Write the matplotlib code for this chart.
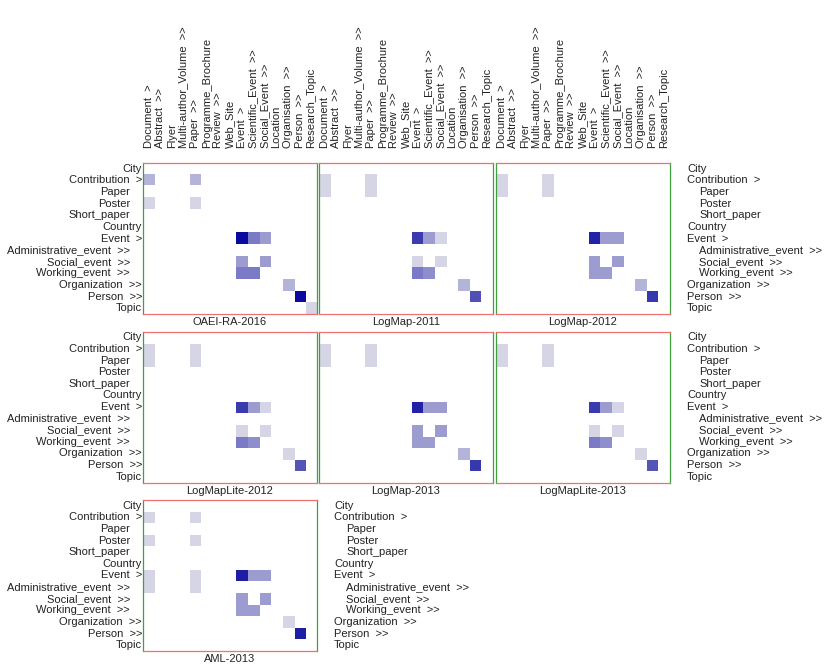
import numpy as np
import matplotlib
matplotlib.use('Agg')
import matplotlib.pyplot as plt
from matplotlib.colors import LinearSegmentedColormap

# row / column categories
row_labels = ['City', 'Contribution  >', 'Paper', 'Poster', 'Short_paper', 'Country',
              'Event  >', 'Administrative_event  >>', 'Social_event  >>',
              'Working_event  >>', 'Organization  >>', 'Person  >>', 'Topic']
row_level = [0, 0, 1, 1, 1, 0, 0, 1, 1, 1, 0, 0, 0]
col_labels = ['Document  >', 'Abstract  >>', 'Flyer', 'Multi-author_Volume  >>', 'Paper  >>',
              'Programme_Brochure', 'Review  >>', 'Web_Site', 'Event  >',
              'Scientific_Event  >>', 'Social_Event  >>', 'Location', 'Organisation  >>',
              'Person  >>', 'Research_Topic']

panel_names = ['OAEI-RA-2016', 'LogMap-2011', 'LogMap-2012', 'LogMapLite-2012',
               'LogMap-2013', 'LogMapLite-2013', 'AML-2013']

# (row, col, value) of the non-empty cells in every panel
oaei_ra_2016 = [(1, 0, .18), (1, 4, .18), (3, 0, .02), (3, 4, .02),
                (6, 8, 1.0), (6, 9, .46), (6, 10, .3), (8, 8, .3), (8, 10, .3),
                (9, 8, .46), (9, 9, .46), (10, 12, .18), (11, 13, 1.0), (12, 14, .02)]
logmap_2011 = [(1, 0, .02), (2, 0, .02), (1, 4, .02), (2, 4, .02),
               (6, 8, .76), (6, 9, .3), (6, 10, .02), (8, 8, .02), (8, 10, .02),
               (9, 8, .46), (9, 9, .36), (10, 12, .18), (11, 13, .66)]
logmap_2012 = [(1, 0, .02), (2, 0, .02), (1, 4, .02), (2, 4, .02),
               (6, 8, .88), (6, 9, .3), (6, 10, .3), (8, 8, .3), (8, 10, .3),
               (9, 8, .3), (9, 9, .3), (10, 12, .18), (11, 13, .78)]
logmaplite_2012 = [(1, 0, .02), (2, 0, .02), (1, 4, .02), (2, 4, .02),
                   (6, 8, .76), (6, 9, .3), (6, 10, .02), (8, 8, .02), (8, 10, .02),
                   (9, 8, .46), (9, 9, .36), (10, 12, .02), (11, 13, .64)]
logmap_2013 = [(1, 0, .02), (2, 0, .02), (1, 4, .02), (2, 4, .02),
               (6, 8, .88), (6, 9, .3), (6, 10, .3), (8, 8, .3), (8, 10, .3),
               (9, 8, .3), (9, 9, .3), (10, 12, .18), (11, 13, .78)]
logmaplite_2013 = [(1, 0, .02), (2, 0, .02), (1, 4, .02), (2, 4, .02),
                   (6, 8, .76), (6, 9, .3), (6, 10, .02), (8, 8, .02), (8, 10, .02),
                   (9, 8, .46), (9, 9, .36), (10, 12, .02), (11, 13, .64)]
aml_2013 = [(1, 0, .02), (1, 4, .02), (3, 0, .02), (3, 4, .02),
            (6, 0, .02), (7, 0, .02), (6, 4, .02), (7, 4, .02),
            (6, 8, .9), (6, 9, .3), (6, 10, .3), (8, 8, .3), (8, 10, .3),
            (9, 8, .3), (9, 9, .3), (10, 12, .02), (11, 13, .9)]
panel_cells = [oaei_ra_2016, logmap_2011, logmap_2012, logmaplite_2012,
               logmap_2013, logmaplite_2013, aml_2013]

plt.rcParams['font.family'] = ['Liberation Sans', 'DejaVu Sans']
plt.rcParams['font.size'] = 8
txt_color = '#222222'

cmap = LinearSegmentedColormap.from_list('blues', ['#dadae8', '#0a0a9e'])
cmap.set_bad('white')

W, H = 829, 664
fig = plt.figure(figsize=(W / 100, H / 100), dpi=100)

# panel grid in pixels
lefts = [143, 319, 496]
tops = [163, 331.5, 500]
pw, ph = 174, 151

for i, (name, cells) in enumerate(zip(panel_names, panel_cells)):
    r, c = divmod(i, 3)
    ax = fig.add_axes([lefts[c] / W, 1 - (tops[r] + ph) / H, pw / W, ph / H])
    mat = np.full((len(row_labels), len(col_labels)), np.nan)
    for row, col, v in cells:
        mat[row, col] = v
    ax.imshow(mat, cmap=cmap, vmin=0, vmax=1, aspect='auto', interpolation='nearest')
    ax.set_xticks([])
    ax.set_yticks([])
    for s in ['top', 'bottom']:
        ax.spines[s].set_color('#f07070')
        ax.spines[s].set_linewidth(0.9)
    for s in ['left', 'right']:
        ax.spines[s].set_color('#40a040')
        ax.spines[s].set_linewidth(0.9)

    # left labels (right aligned, sub-items pushed away from the axis)
    if c == 0:
        for k, lab in enumerate(row_labels):
            off = -13 if row_level[k] else -1
            ax.annotate(lab, xy=(0, k), xycoords=('axes fraction', 'data'),
                        xytext=(off, 0), textcoords='offset pixels',
                        ha='right', va='center', color=txt_color)
    # right labels (left aligned, sub-items indented)
    if c == 2 or i == len(panel_names) - 1:
        for k, lab in enumerate(row_labels):
            off = 29 if row_level[k] else 17
            ax.annotate(lab, xy=(1, k), xycoords=('axes fraction', 'data'),
                        xytext=(off, 0), textcoords='offset pixels',
                        ha='left', va='center', color=txt_color)
    # column labels on top of the first row
    if r == 0:
        for k, lab in enumerate(col_labels):
            ax.annotate(lab, xy=(k, 1), xycoords=('data', 'axes fraction'),
                        xytext=(0, 15), textcoords='offset pixels', rotation=90,
                        ha='center', va='bottom', color=txt_color)
    # panel name underneath
    ax.annotate(name, xy=(0.5, 0), xycoords='axes fraction', xytext=(0, -3),
                textcoords='offset pixels', ha='center', va='top', color=txt_color)

fig.savefig('out.png', dpi=100)
